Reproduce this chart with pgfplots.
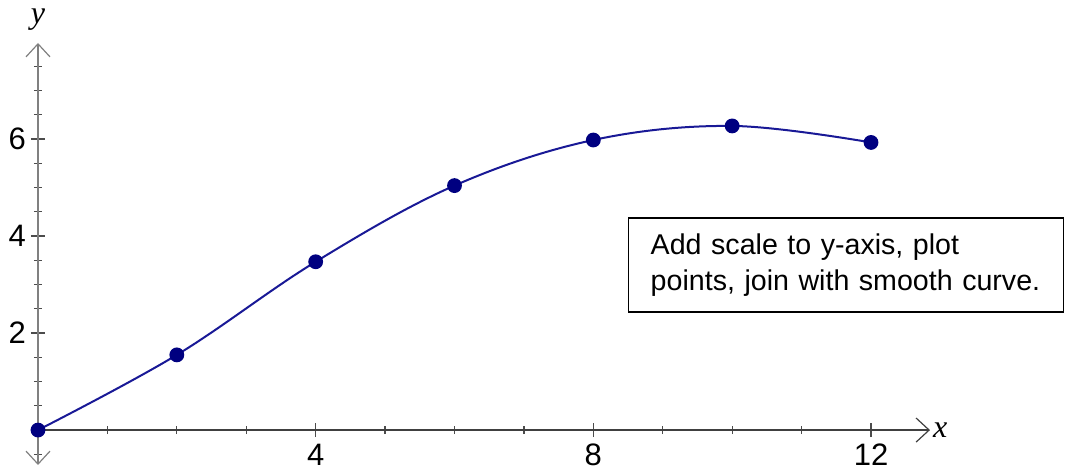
\documentclass[border=0pt]{standalone}
\usepackage{fontspec}
\setmainfont{Liberation Sans}
\newfontfamily\serif{Liberation Serif}
\usepackage{pgfplots}
\pgfplotsset{compat=1.18}
\usetikzlibrary{arrows.meta}
\definecolor{curve}{RGB}{25,25,150}
\definecolor{dot}{RGB}{0,0,128}
\begin{document}
\begin{tikzpicture}
\path[use as bounding box] (-19pt,-5pt) rectangle (513.5pt,232.5pt);
\begin{axis}[
  at={(0,0)}, anchor=south west,
  scale only axis, width=446pt, height=211pt,
  axis lines=middle,
  clip=false,
  xmin=0, xmax=12.85, ymin=-0.72, ymax=7.98,
  xtick={4,8,12}, ytick={2,4,6},
  minor xtick={1,2,3,5,6,7,9,10,11},
  minor ytick={-0.5,0.5,1,1.5,2.5,3,3.5,4.5,5,5.5,6.5,7,7.5},
  major tick length=7pt, minor tick length=4pt,
  tick align=center,
  every tick/.style={black!70, line width=0.6pt},
  x axis line style={black!75, line width=0.6pt, -{Straight Barb[length=6.5pt,width=12pt,line width=0.6pt]}},
  y axis line style={black!50, line width=0.8pt, {Straight Barb[length=6.5pt,width=12pt,line width=0.6pt]}-{Straight Barb[length=6.5pt,width=12pt,line width=0.6pt]}},
  ticklabel style={font=\fontsize{15.5}{17}\selectfont},
  /pgf/number format/assume math mode=true,
  xticklabel style={yshift=0pt},
  yticklabel style={xshift=1pt},
  xlabel={\serif\itshape x}, ylabel={\serif\itshape y},
  every axis x label/.style={at={(ticklabel* cs:1)}, anchor=west, font=\fontsize{16}{17}\selectfont, xshift=-2pt},
  every axis y label/.style={at={(ticklabel* cs:1)}, anchor=south, font=\fontsize{16}{17}\selectfont, yshift=3pt},
]
\addplot[curve, line width=1pt, smooth, tension=0.6, mark=*, mark size=3.2pt, mark options={dot, solid}] coordinates {
  (0,0)
  (2,1.55)
  (4,3.47)
  (6,5.04)
  (8,5.98)
  (10,6.27)
  (12,5.93)
};
\node[draw, line width=0.7pt, anchor=north west, minimum width=217.5pt, minimum height=47pt,
      inner xsep=11pt, text width=195.5pt, align=left,
      font=\fontsize{14.3}{18}\selectfont] at (axis cs:8.5,4.39)
  {Add scale to y-axis, plot\\points, join with smooth curve.};
\end{axis}
\end{tikzpicture}
\end{document}
